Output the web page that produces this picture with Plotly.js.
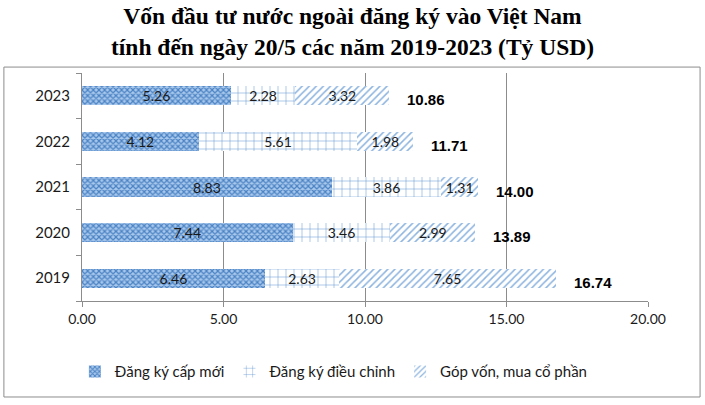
<!DOCTYPE html>
<html>
<head>
<meta charset="utf-8">
<script src="https://cdn.plot.ly/plotly-3.0.1.min.js"></script>
<style>html,body{margin:0;padding:0;background:#fff}#chart{width:705px;height:405px}</style>
</head>
<body>
<div id="chart"></div>
<script>
const years = ["2019", "2020", "2021", "2022", "2023"];
const capMoi = [6.46, 7.44, 8.83, 4.12, 5.26];
const dieuChinh = [2.63, 3.46, 3.86, 5.61, 2.28];
const gopVon = [7.65, 2.99, 1.31, 1.98, 3.32];
const totals = [16.74, 13.89, 14.00, 11.71, 10.86];
const seriesNames = ["Đăng ký cấp mới", "Đăng ký điều chỉnh", "Góp vốn, mua cổ phần"];
const xTicks = [0, 5, 10, 15, 20];

const baseFont = "Lato, 'Open Sans', sans-serif";
const txtFont = {family: baseFont, size: 14, color: "#1a1a1a"};

function mk(vals, name, pattern) {
  return {
    type: "bar", orientation: "h", y: years, x: vals, name: name,
    marker: {color: pattern.bgcolor, line: {width: 0}, pattern: pattern},
    texttemplate: "%{x:.2f}", textposition: "inside", insidetextanchor: "middle",
    textfont: txtFont, insidetextfont: txtFont, constraintext: "none",
    hoverinfo: "x+name"
  };
}

const data = [
  mk(capMoi, seriesNames[0], {shape: "x", size: 4, solidity: 0.5, fgcolor: "#4a82c4", bgcolor: "#a8c8ec", fillmode: "replace"}),
  mk(dieuChinh, seriesNames[1], {shape: "+", size: 8, solidity: 0.12, fgcolor: "#5b93d1", bgcolor: "#ffffff", fillmode: "replace"}),
  mk(gopVon, seriesNames[2], {shape: "/", size: 5, solidity: 0.3, fgcolor: "#8db4df", bgcolor: "#ffffff", fillmode: "replace"})
];

const annotations = years.map((y, i) => ({
  x: totals[i], y: i, xref: "x", yref: "y",
  text: "<b>" + totals[i].toFixed(2) + "</b>",
  showarrow: false, xanchor: "left", xshift: 16, yshift: -4,
  font: {family: "'Liberation Sans', Arial, sans-serif", size: 15, color: "#000"}
}));

const layout = {
  width: 705, height: 405,
  margin: {l: 82, r: 57, t: 73, b: 104},
  paper_bgcolor: "#fff", plot_bgcolor: "#fff",
  title: {
    text: "Vốn đầu tư nước ngoài đăng ký vào Việt Nam<br>tính đến ngày 20/5 các năm 2019-2023 (Tỷ USD)",
    font: {family: "'Liberation Serif', 'Times New Roman', serif", size: 23.5, color: "#000", weight: "bold"},
    x: 0.5, xanchor: "center", yref: "container", y: 0.94, yanchor: "top"
  },
  barmode: "stack", bargap: 0.58,
  xaxis: {
    range: [0, 20], autorange: false, tickvals: xTicks, ticktext: xTicks.map(v => v.toFixed(2)),
    showgrid: true, gridcolor: "#8c8c8c", gridwidth: 1,
    showline: true, linecolor: "#8c8c8c", linewidth: 1,
    ticks: "outside", ticklen: 5, tickcolor: "#8c8c8c",
    tickfont: {family: baseFont, size: 14, color: "#1a1a1a"},
    zeroline: false, fixedrange: true
  },
  yaxis: {
    type: "category", categoryorder: "array", categoryarray: years,
    range: [-0.5, years.length - 0.5], autorange: false,
    showline: true, linecolor: "#8c8c8c", linewidth: 1,
    ticks: "outside", tickson: "boundaries", ticklen: 5, tickcolor: "#8c8c8c",
    tickfont: {family: baseFont, size: 15, color: "#1a1a1a"},
    showgrid: false, zeroline: false, fixedrange: true, ticklabelstandoff: 8
  },
  legend: {
    orientation: "h", x: 0.445, xanchor: "center", y: -0.31, yanchor: "middle",
    font: {family: baseFont, size: 15, color: "#1a1a1a"}, itemwidth: 30,
    traceorder: "normal"
  },
  annotations: annotations,
  shapes: [{
    type: "rect", xref: "paper", yref: "paper",
    x0: -0.138, x1: 1.092, y0: -0.421, y1: 1.026,
    line: {color: "#8c8c8c", width: 1}, fillcolor: "rgba(0,0,0,0)", layer: "below"
  }]
};

Plotly.newPlot("chart", data, layout, {displayModeBar: false, staticPlot: true});
</script>
</body>
</html>
